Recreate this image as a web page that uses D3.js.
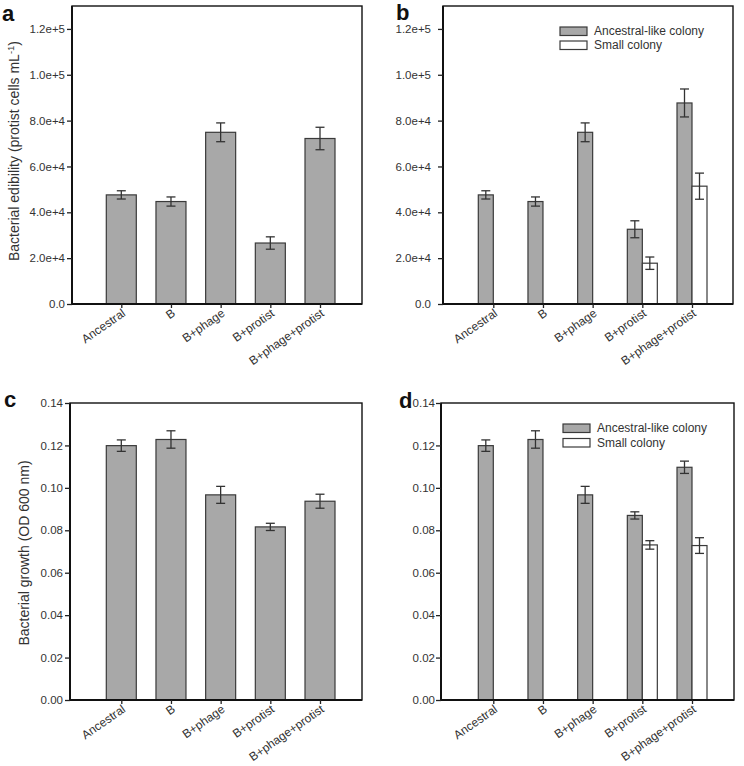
<!DOCTYPE html>
<html><head><meta charset="utf-8">
<script src="https://cdn.jsdelivr.net/npm/d3@7"></script>
<style>body{margin:0;background:#fff}svg{display:block}text{font-family:Arial,"Liberation Sans",sans-serif}</style>
</head><body>
<script>
const categories = ["Ancestral","B","B+phage","B+protist","B+phage+protist"];

const edibilityMean = [47600, 44700, 74900, 26600, 72200];
const edibilityErr  = [1800, 2000, 4100, 2700, 4900];
const edibilityAncMean = [47600, 44700, 74900, 32600, 87700];
const edibilityAncErr  = [1800, 2000, 4100, 3700, 6100];
const edibilitySmallMean = [null, null, null, 17800, 51400];
const edibilitySmallErr  = [null, null, null, 2700, 5700];

const growthMean = [0.1199, 0.1228, 0.0967, 0.0816, 0.0937];
const growthErr  = [0.0027, 0.0041, 0.0040, 0.0017, 0.0033];
const growthAncMean = [0.1199, 0.1228, 0.0967, 0.0870, 0.1097];
const growthAncErr  = [0.0027, 0.0041, 0.0040, 0.0017, 0.0029];
const growthSmallMean = [null, null, null, 0.0731, 0.0728];
const growthSmallErr  = [null, null, null, 0.0020, 0.0037];

const edibilityTicks = [0, 20000, 40000, 60000, 80000, 100000, 120000];
const edibilityTickLabels = ["0.0","2.0e+4","4.0e+4","6.0e+4","8.0e+4","1.0e+5","1.2e+5"];
const growthTicks = [0, 0.02, 0.04, 0.06, 0.08, 0.10, 0.12, 0.14];
const growthTickLabels = ["0.00","0.02","0.04","0.06","0.08","0.10","0.12","0.14"];

const legendLabels = ["Ancestral-like colony","Small colony"];

const GRAY = "#a8a8a8", STROKE = "#3a3a3a", ERR = "#333";

const svg = d3.select("body").append("svg").attr("width",744).attr("height",766);

function panel(cfg){
  const g = svg.append("g");
  const y = d3.scaleLinear().domain(cfg.domain).range([cfg.bottom, cfg.top]);
  const x = d3.scalePoint().domain(categories).range(cfg.xr);

  const bw = 30;
  if (!cfg.grouped){
    categories.forEach((c,i)=>{
      const cx = x(c);
      g.append("rect").attr("x",cx-bw/2).attr("y",y(cfg.mean[i])).attr("width",bw)
        .attr("height",y(0)-y(cfg.mean[i])).attr("fill",GRAY).attr("stroke",STROKE).attr("stroke-width",1.2);
      errbar(g, cx, y, cfg.mean[i], cfg.err[i]);
    });
  } else {
    categories.forEach((c,i)=>{
      const cx = x(c);
      g.append("rect").attr("x",cx-bw/2).attr("y",y(cfg.mean[i])).attr("width",bw/2)
        .attr("height",y(0)-y(cfg.mean[i])).attr("fill",GRAY).attr("stroke",STROKE).attr("stroke-width",1.2);
      errbar(g, cx-bw/4, y, cfg.mean[i], cfg.err[i]);
      if (cfg.mean2[i] != null){
        g.append("rect").attr("x",cx).attr("y",y(cfg.mean2[i])).attr("width",bw/2)
          .attr("height",y(0)-y(cfg.mean2[i])).attr("fill","#fff").attr("stroke",STROKE).attr("stroke-width",1.2);
        errbar(g, cx+bw/4, y, cfg.mean2[i], cfg.err2[i]);
      }
    });
  }

  g.append("rect").attr("x",cfg.left).attr("y",cfg.top).attr("width",cfg.right-cfg.left)
    .attr("height",cfg.bottom-cfg.top).attr("fill","none").attr("stroke","#111").attr("stroke-width",1.4);

  const ya = g.append("g").attr("transform",`translate(${cfg.left},0)`)
    .call(d3.axisLeft(y).tickValues(cfg.ticks).tickFormat((d,i)=>cfg.tickLabels[i]).tickSize(5).tickPadding(cfg.tickPad));
  ya.select(".domain").attr("stroke","#111").attr("stroke-width",2).attr("d",`M0,${cfg.top}V${cfg.bottom}`);
  ya.selectAll(".tick line").attr("stroke","#222").attr("stroke-width",1.3);
  ya.selectAll(".tick text").attr("font-size",11.5).attr("fill","#333")
    .attr("font-family",'Arial,"Liberation Sans",sans-serif');

  const xa = g.append("g").attr("transform",`translate(0,${cfg.bottom})`)
    .call(d3.axisBottom(x).tickSize(4).tickFormat(""));
  xa.select(".domain").attr("stroke","#111").attr("stroke-width",2).attr("d",`M${cfg.left},0H${cfg.right}`);
  xa.selectAll(".tick line").attr("stroke","#222").attr("stroke-width",1.3);
  categories.forEach(c=>{
    g.append("text").attr("transform",`translate(${x(c)+5},${cfg.bottom+11}) rotate(-35)`)
      .attr("text-anchor","end").attr("font-size",12).attr("fill","#333").text(c);
  });

  g.append("text").attr("x",cfg.lx).attr("y",cfg.ly).attr("font-size",cfg.lsize).attr("font-weight","bold")
    .attr("fill","#111").text(cfg.letter);

  if (cfg.title){
    const t = g.append("text").attr("transform",`translate(${cfg.tx},${cfg.ty}) rotate(-90)`)
      .attr("text-anchor","middle").attr("font-size",14).attr("fill","#333");
    t.append("tspan").text(cfg.title);
    if (cfg.sup){
      t.append("tspan").attr("dy",-5).attr("font-size",9.5).text(cfg.sup);
      t.append("tspan").attr("dy",5).text(")");
    }
  }

  if (cfg.grouped){
    const L = cfg.legend;
    [GRAY,"#fff"].forEach((f,i)=>{
      g.append("rect").attr("x",L.x).attr("y",L.y+i*L.dy).attr("width",27).attr("height",8.5)
        .attr("fill",f).attr("stroke",STROKE).attr("stroke-width",1.2);
      g.append("text").attr("x",L.x+34).attr("y",L.y+i*L.dy+4.25).attr("dy","0.35em")
        .attr("font-size",12).attr("fill","#333").text(legendLabels[i]);
    });
  }
}

function errbar(g, cx, y, m, e){
  const cw = 4.5;
  g.append("line").attr("x1",cx).attr("x2",cx).attr("y1",y(m+e)).attr("y2",y(m-e)).attr("stroke",ERR).attr("stroke-width",1.3);
  g.append("line").attr("x1",cx-cw).attr("x2",cx+cw).attr("y1",y(m+e)).attr("y2",y(m+e)).attr("stroke",ERR).attr("stroke-width",1.3);
  g.append("line").attr("x1",cx-cw).attr("x2",cx+cw).attr("y1",y(m-e)).attr("y2",y(m-e)).attr("stroke",ERR).attr("stroke-width",1.3);
}

panel({left:72, top:6, right:362, bottom:304, domain:[0,130000], xr:[121.3,320],
  ticks:edibilityTicks, tickLabels:edibilityTickLabels, tickPad:2,
  mean:edibilityMean, err:edibilityErr, grouped:false,
  letter:"a", lx:2, ly:21, lsize:22,
  title:"Bacterial edibility (protist cells mL", sup:"-1", tx:19, ty:151});

panel({left:443, top:6, right:733, bottom:304, domain:[0,130000], xr:[493.3,692],
  ticks:edibilityTicks, tickLabels:edibilityTickLabels, tickPad:7,
  mean:edibilityAncMean, err:edibilityAncErr, mean2:edibilitySmallMean, err2:edibilitySmallErr, grouped:true,
  letter:"b", lx:396, ly:20, lsize:22, legend:{x:560, y:27, dy:14}});

panel({left:70, top:403, right:362, bottom:700, domain:[0,0.14], xr:[121.3,320],
  ticks:growthTicks, tickLabels:growthTickLabels, tickPad:2,
  mean:growthMean, err:growthErr, grouped:false,
  letter:"c", lx:4, ly:407, lsize:22,
  title:"Bacterial growth (OD 600 nm)", tx:29, ty:553});

panel({left:441, top:403, right:734, bottom:700, domain:[0,0.14], xr:[493.3,692],
  ticks:growthTicks, tickLabels:growthTickLabels, tickPad:1,
  mean:growthAncMean, err:growthAncErr, mean2:growthSmallMean, err2:growthSmallErr, grouped:true,
  letter:"d", lx:399, ly:408, lsize:22, legend:{x:563, y:424, dy:14.5}});
</script>
</body></html>
